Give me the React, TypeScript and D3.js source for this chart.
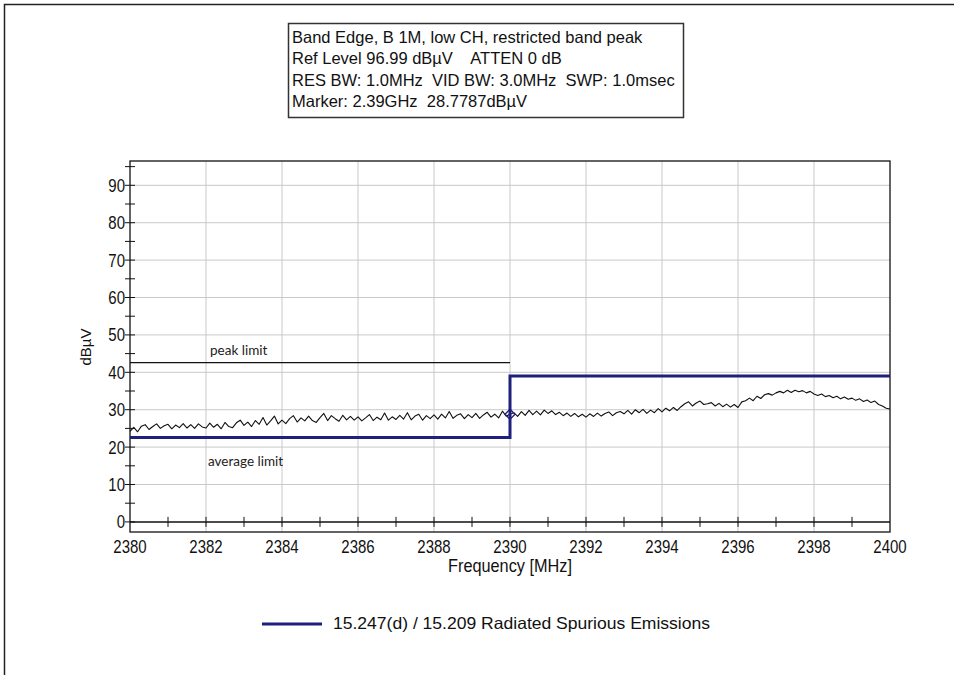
import React, { useEffect, useRef } from 'react';
import * as d3 from 'd3';

// header box lines
const infoLines = [
  'Band Edge, B 1M, low CH, restricted band peak',
  'Ref Level 96.99 dB\u00b5V    ATTEN 0 dB',
  'RES BW: 1.0MHz  VID BW: 3.0MHz  SWP: 1.0msec',
  'Marker: 2.39GHz  28.7787dB\u00b5V',
];

const xTicks = [2380, 2382, 2384, 2386, 2388, 2390, 2392, 2394, 2396, 2398, 2400];
const yTicks = [0, 10, 20, 30, 40, 50, 60, 70, 80, 90];

// limit lines
const peakLimit = [
  { f: 2380, v: 42.6 },
  { f: 2390, v: 42.6 },
];
const averageLimit = [
  { f: 2380, v: 22.6 },
  { f: 2390, v: 22.6 },
  { f: 2390, v: 39.0 },
  { f: 2400, v: 39.0 },
];

const marker = { f: 2390, v: 28.78 };

// measured trace, one sample every 0.1 MHz from 2380 to 2400
const traceStart = 2380;
const traceStep = 0.1;
const traceValues = [
  24.2, 25.3, 24.1, 25.6, 26.0, 24.7, 25.5, 26.2, 25.0, 25.7,
  26.1, 24.9, 25.9, 25.2, 26.3, 25.1, 26.0, 25.0, 26.2, 25.4,
  25.1, 26.4, 25.3, 26.1, 24.9, 26.6, 25.5, 25.2, 26.5, 27.2,
  25.8, 26.7, 25.5, 27.1, 26.1, 27.9, 25.9, 27.0, 28.3, 26.2,
  27.2, 26.3, 27.6, 28.4, 26.7, 27.8, 27.0, 28.3, 27.1, 26.6,
  27.9, 29.0, 27.1, 28.4, 27.6, 26.9, 28.5, 27.3, 28.2, 27.2,
  28.1, 27.0, 27.8, 28.7, 27.1, 28.0, 27.3, 29.1, 27.2, 28.1,
  27.4, 28.5, 27.5, 29.2, 27.3, 28.3, 28.8, 27.2, 28.4, 27.6,
  28.6, 27.5, 28.8, 27.8, 29.5, 27.7, 28.5, 28.9, 27.6, 28.7,
  27.9, 29.0, 27.7, 28.6, 29.3, 28.0, 28.8, 27.8, 29.6, 28.3,
  28.78, 29.2, 28.2, 29.5, 28.5, 29.8, 28.7, 29.6, 28.6, 29.9,
  29.0, 29.7, 28.7, 29.3, 28.4, 29.1, 28.2, 29.0, 28.1, 28.8,
  28.0, 28.9, 28.2, 29.1, 28.3, 29.0, 29.4, 28.4, 29.2, 29.5,
  28.9, 29.8, 28.8, 30.0, 29.2, 30.1, 29.0, 29.9, 29.2, 30.3,
  29.4, 30.4, 29.7, 30.6, 29.8, 30.8, 31.6, 32.1, 31.0, 31.8,
  32.3, 31.4, 31.6, 31.9, 31.0, 31.7, 30.8, 31.5, 30.7, 31.4,
  30.6, 32.1, 32.4, 33.1, 32.4, 33.6, 33.0, 34.0, 34.3, 33.9,
  34.5, 34.9, 34.5, 35.2, 34.6, 35.2, 34.8, 35.1, 34.5, 34.9,
  34.2, 33.8, 34.2, 33.5, 33.8, 33.2, 33.6, 32.9, 33.4, 32.8,
  33.1, 32.5, 32.9, 32.2, 32.6, 31.9, 32.3, 31.4, 31.0, 30.4,
  30.2,
];

const legendLabel = '15.247(d) / 15.209 Radiated Spurious Emissions';

const BLUE = '#1f1f7d';
const FONT = '"Liberation Sans", Arial, sans-serif';

const App = () => {
  const ref = useRef<HTMLDivElement>(null);

  useEffect(() => {
    document.body.style.margin = '0';
    const root = d3.select(ref.current);
    root.selectAll('svg').remove();

    const W = 954;
    const H = 675;
    const plot = { left: 130, right: 890, top: 161, bottom: 532 };

    const svg = root.append('svg')
      .attr('width', W)
      .attr('height', H)
      .style('display', 'block')
      .style('background', '#fff');

    // outer frame (top + left edges)
    svg.append('path')
      .attr('d', `M4.5,${H} L4.5,4.5 L${W},4.5`)
      .attr('fill', 'none')
      .attr('stroke', '#222')
      .attr('stroke-width', 1.5);

    // info box
    svg.append('rect')
      .attr('x', 288.5).attr('y', 23.5)
      .attr('width', 395).attr('height', 94)
      .attr('fill', '#fff')
      .attr('stroke', '#333')
      .attr('stroke-width', 1.5);

    svg.append('g')
      .selectAll('text')
      .data(infoLines)
      .enter()
      .append('text')
      .attr('x', 292)
      .attr('y', (d, i) => 43 + i * 21.3)
      .attr('font-family', FONT)
      .attr('font-size', 16.5)
      .attr('fill', '#111')
      .style('white-space', 'pre')
      .text(d => d);

    const x = d3.scaleLinear().domain([2380, 2400]).range([plot.left, plot.right]);
    const y = d3.scaleLinear().domain([-2.7, 96.5]).range([plot.bottom, plot.top]);

    const g = svg.append('g');

    // grid
    g.selectAll('.vgrid')
      .data(xTicks.slice(1, -1))
      .enter()
      .append('line')
      .attr('x1', d => x(d)).attr('x2', d => x(d))
      .attr('y1', plot.top).attr('y2', plot.bottom)
      .attr('stroke', '#c9c9c9')
      .attr('stroke-width', 1);

    g.selectAll('.hgrid')
      .data(yTicks.slice(1))
      .enter()
      .append('line')
      .attr('x1', plot.left).attr('x2', plot.right)
      .attr('y1', d => y(d)).attr('y2', d => y(d))
      .attr('stroke', '#c9c9c9')
      .attr('stroke-width', 1);

    // plot frame
    g.append('rect')
      .attr('x', plot.left).attr('y', plot.top)
      .attr('width', plot.right - plot.left)
      .attr('height', plot.bottom - plot.top)
      .attr('fill', 'none')
      .attr('stroke', '#111')
      .attr('stroke-width', 1.3);

    // zero line
    g.append('line')
      .attr('x1', plot.left).attr('x2', plot.right)
      .attr('y1', y(0)).attr('y2', y(0))
      .attr('stroke', '#111')
      .attr('stroke-width', 1.5);

    // x ticks across zero line
    g.selectAll('.xt')
      .data(d3.range(2381, 2400, 1))
      .enter()
      .append('line')
      .attr('x1', d => x(d)).attr('x2', d => x(d))
      .attr('y1', y(0) - 5).attr('y2', y(0) + 5)
      .attr('stroke', '#111');

    // y ticks across left axis
    g.selectAll('.yt')
      .data(d3.range(0, 96, 5))
      .enter()
      .append('line')
      .attr('x1', plot.left - 5).attr('x2', plot.left + 5)
      .attr('y1', d => y(d)).attr('y2', d => y(d))
      .attr('stroke', '#111');

    // tick labels (tall, narrow look of the original)
    g.selectAll('.xl')
      .data(xTicks)
      .enter()
      .append('text')
      .attr('transform', d => `translate(${x(d)},553) scale(1,1.25)`)
      .attr('text-anchor', 'middle')
      .attr('font-family', FONT)
      .attr('font-size', 15)
      .attr('fill', '#111')
      .text(d => d);

    g.selectAll('.yl')
      .data(yTicks)
      .enter()
      .append('text')
      .attr('transform', d => `translate(${plot.left - 5},${y(d) + 6.5}) scale(1,1.25)`)
      .attr('text-anchor', 'end')
      .attr('font-family', FONT)
      .attr('font-size', 15)
      .attr('fill', '#111')
      .text(d => d);

    // axis titles
    svg.append('text')
      .attr('transform', 'translate(510,572) scale(1,1.2)')
      .attr('text-anchor', 'middle')
      .attr('font-family', FONT)
      .attr('font-size', 15)
      .attr('textLength', 124)
      .attr('lengthAdjust', 'spacingAndGlyphs')
      .attr('fill', '#111')
      .text('Frequency [MHz]');

    svg.append('text')
      .attr('transform', 'translate(91,347) rotate(-90)')
      .attr('text-anchor', 'middle')
      .attr('font-family', FONT)
      .attr('font-size', 15)
      .attr('fill', '#111')
      .text('dB\u00b5V');

    const line = d3.line<{ f: number; v: number }>()
      .x(d => x(d.f))
      .y(d => y(d.v));

    // peak limit
    g.append('path')
      .datum(peakLimit)
      .attr('d', line)
      .attr('fill', 'none')
      .attr('stroke', '#111')
      .attr('stroke-width', 1.2);

    // trace
    const trace = traceValues.map((v, i) => ({ f: traceStart + i * traceStep, v }));
    g.append('path')
      .datum(trace)
      .attr('d', line)
      .attr('fill', 'none')
      .attr('stroke', '#111')
      .attr('stroke-width', 1.1)
      .attr('stroke-linejoin', 'round');

    // average limit
    g.append('path')
      .datum(averageLimit)
      .attr('d', line)
      .attr('fill', 'none')
      .attr('stroke', BLUE)
      .attr('stroke-width', 3);

    // marker
    const mx = x(marker.f);
    const my = y(marker.v);
    g.append('path')
      .attr('d', `M${mx},${my - 5} L${mx + 5},${my} L${mx},${my + 5} L${mx - 5},${my} Z`)
      .attr('fill', 'none')
      .attr('stroke', BLUE)
      .attr('stroke-width', 1.3);

    // limit labels
    g.append('text')
      .attr('x', 210).attr('y', 355)
      .attr('font-family', 'Lato, "Open Sans", sans-serif')
      .attr('font-size', 13.5)
      .attr('fill', '#222')
      .text('peak limit');

    g.append('text')
      .attr('x', 208).attr('y', 466)
      .attr('font-family', 'Lato, "Open Sans", sans-serif')
      .attr('font-size', 13.5)
      .attr('fill', '#222')
      .text('average limit');

    // legend
    svg.append('line')
      .attr('x1', 262).attr('x2', 322)
      .attr('y1', 624).attr('y2', 624)
      .attr('stroke', BLUE)
      .attr('stroke-width', 3);

    svg.append('text')
      .attr('transform', 'translate(333,629) scale(1,1.15)')
      .attr('font-family', FONT)
      .attr('font-size', 14.5)
      .attr('textLength', 377)
      .attr('lengthAdjust', 'spacingAndGlyphs')
      .attr('fill', '#111')
      .text(legendLabel);
  }, []);

  return <div ref={ref}></div>;
};

export default App;
